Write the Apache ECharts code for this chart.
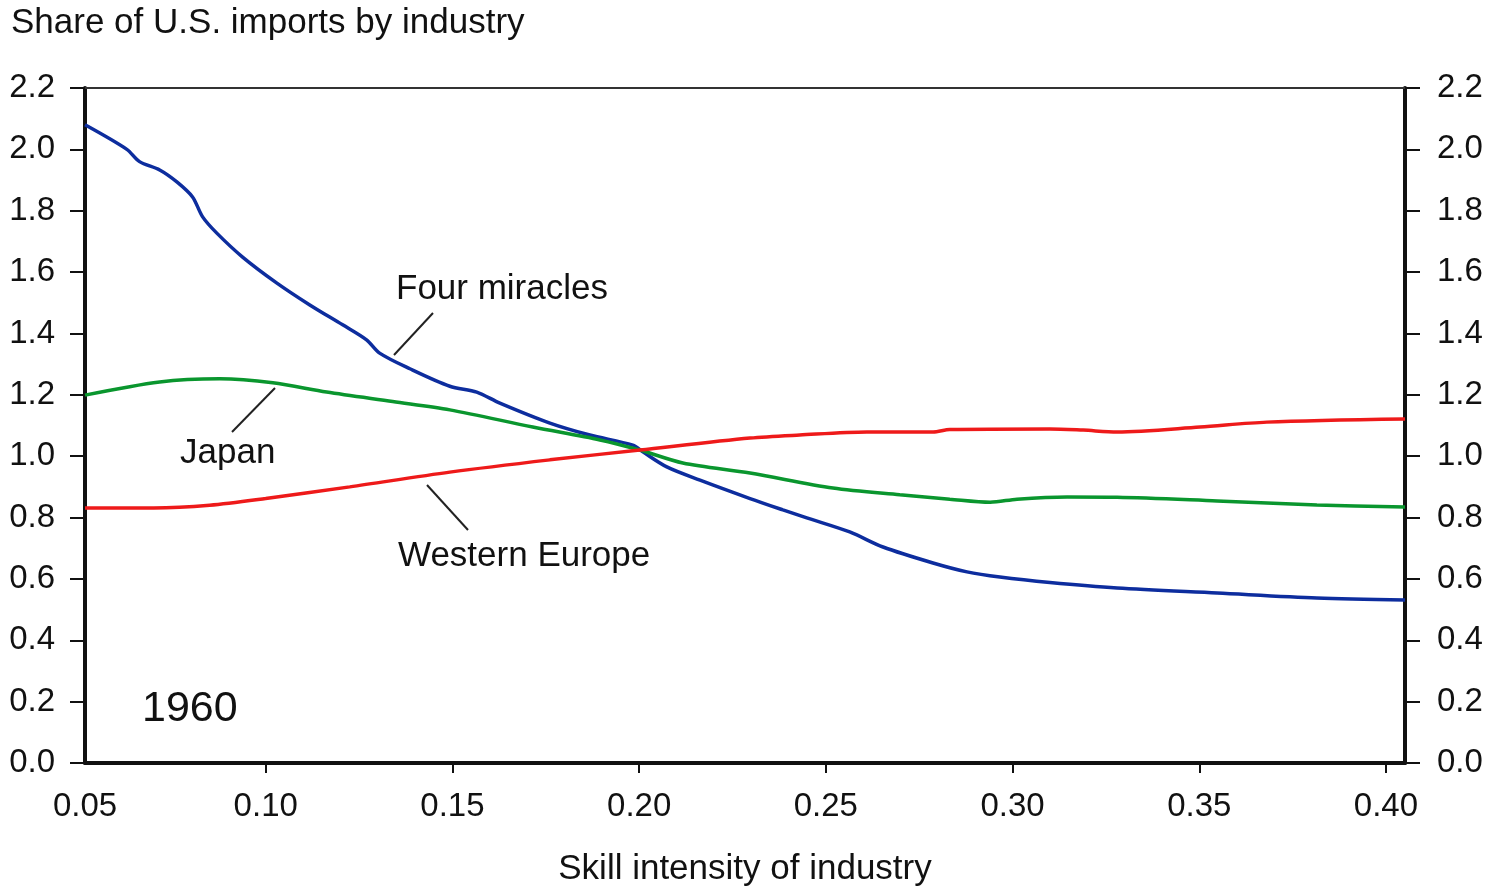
<!DOCTYPE html>
<html>
<head>
<meta charset="utf-8">
<script src="https://cdn.jsdelivr.net/npm/echarts@6/dist/echarts.min.js"></script>
<style>
  html, body { margin: 0; padding: 0; background: #fff; }
  #chart { width: 1495px; height: 890px; }
</style>
</head>
<body>
<div id="chart"></div>
<script>
// skill intensity (x) vs share of U.S. imports (y)
var fourMiracles = [
  [0.0516, 2.08], [0.0628, 2.00], [0.0662, 1.96], [0.0716, 1.933], [0.0762, 1.894],
  [0.0804, 1.845], [0.0831, 1.78], [0.0869, 1.727], [0.0938, 1.649], [0.1029, 1.565],
  [0.1118, 1.493], [0.1206, 1.428], [0.127, 1.379], [0.1305, 1.336], [0.1386, 1.285],
  [0.1493, 1.228], [0.1565, 1.209], [0.1627, 1.173], [0.1761, 1.108], [0.1868, 1.069],
  [0.1983, 1.036], [0.201, 1.014], [0.2074, 0.965], [0.2163, 0.922], [0.2297, 0.862],
  [0.2385, 0.825], [0.2449, 0.799], [0.2564, 0.753], [0.2653, 0.704], [0.2787, 0.652],
  [0.2878, 0.623], [0.2966, 0.606], [0.31, 0.588], [0.328, 0.570], [0.3548, 0.554],
  [0.3815, 0.538], [0.4051, 0.531]
];
var japan = [
  [0.0516, 1.199], [0.0716, 1.242], [0.0877, 1.252], [0.1019, 1.239], [0.1163, 1.209],
  [0.134, 1.178], [0.1493, 1.151], [0.1715, 1.095], [0.1895, 1.053], [0.2002, 1.02],
  [0.2117, 0.978], [0.2297, 0.945], [0.2519, 0.896], [0.2698, 0.874], [0.2832, 0.860],
  [0.294, 0.850], [0.3012, 0.860], [0.3146, 0.867], [0.328, 0.866], [0.3548, 0.854],
  [0.3815, 0.841], [0.4051, 0.834]
];
var westernEurope = [
  [0.0516, 0.831], [0.07, 0.831], [0.085, 0.840], [0.10, 0.862], [0.1225, 0.90],
  [0.1493, 0.948], [0.1761, 0.988], [0.2002, 1.02], [0.2297, 1.059], [0.243, 1.069],
  [0.261, 1.079], [0.2787, 1.079], [0.2832, 1.087], [0.31, 1.089], [0.3189, 1.085],
  [0.328, 1.079], [0.3502, 1.095], [0.3681, 1.111], [0.4051, 1.121]
];
var xTicks = [0.10, 0.15, 0.20, 0.25, 0.30, 0.35, 0.40];
var xLabels = [0.0516].concat(xTicks);  // first label sits on the left edge, reads 0.05

var FONT = '"Liberation Sans", Arial, Helvetica, sans-serif';
var INK = '#111';

var chart = echarts.init(document.getElementById('chart'));

function yAxisOf(pos) {
  return {
    type: 'value',
    position: pos,
    min: 0,
    max: 2.2,
    interval: 0.2,
    axisLine: { show: true, lineStyle: { color: INK, width: 4 } },
    axisTick: { show: true, inside: false, length: 15, lineStyle: { color: INK, width: 2 } },
    axisLabel: {
      color: INK, fontSize: 33, fontFamily: FONT,
      margin: pos === 'left' ? 30 : 32,
      formatter: function (v) { return v.toFixed(1); }
    },
    splitLine: { show: false }
  };
}

chart.setOption({
  backgroundColor: '#fff',
  animation: false,
  title: {
    text: 'Share of U.S. imports by industry',
    left: 6,
    top: 1,
    textStyle: { color: INK, fontSize: 35, fontWeight: 'normal', fontFamily: FONT }
  },
  grid: {
    left: 85, right: 90, top: 88, bottom: 127,
    outerBoundsMode: 'none'
  },
  xAxis: [
    {
      type: 'value',
      position: 'bottom',
      min: 0.0516,
      max: 0.4051,
      name: 'Skill intensity of industry',
      nameLocation: 'middle',
      nameGap: 89,
      nameTextStyle: { color: INK, fontSize: 35, fontFamily: FONT },
      axisLine: { show: true, onZero: false, lineStyle: { color: INK, width: 4 } },
      axisTick: { show: true, length: 10, customValues: xTicks, lineStyle: { color: INK, width: 2 } },
      axisLabel: {
        color: INK, fontSize: 33, fontFamily: FONT, margin: 27,
        customValues: xLabels,
        formatter: function (v) { return v < 0.06 ? '0.05' : v.toFixed(2); }
      },
      splitLine: { show: false }
    },
    {
      type: 'value',
      position: 'top',
      min: 0.0516,
      max: 0.4051,
      axisLine: { show: true, onZero: false, lineStyle: { color: '#333', width: 2 } },
      axisTick: { show: false },
      axisLabel: { show: false },
      splitLine: { show: false }
    }
  ],
  yAxis: [yAxisOf('left'), yAxisOf('right')],
  series: [
    {
      name: 'Four miracles', type: 'line', data: fourMiracles,
      smooth: 0.3, showSymbol: false,
      lineStyle: { color: '#0d2d9e', width: 3.5 }, itemStyle: { color: '#0d2d9e' }
    },
    {
      name: 'Japan', type: 'line', data: japan,
      smooth: 0.3, showSymbol: false,
      lineStyle: { color: '#0a962e', width: 3.5 }, itemStyle: { color: '#0a962e' }
    },
    {
      name: 'Western Europe', type: 'line', data: westernEurope,
      smooth: 0.3, showSymbol: false,
      lineStyle: { color: '#ee1a1a', width: 3.5 }, itemStyle: { color: '#ee1a1a' }
    }
  ],
  graphic: [
    // leader lines
    { type: 'line', shape: { x1: 433, y1: 313, x2: 394, y2: 355 }, style: { stroke: '#222', lineWidth: 2 } },
    { type: 'line', shape: { x1: 275, y1: 388, x2: 232, y2: 432 }, style: { stroke: '#222', lineWidth: 2 } },
    { type: 'line', shape: { x1: 427, y1: 485, x2: 468, y2: 530 }, style: { stroke: '#222', lineWidth: 2 } },
    // labels
    { type: 'text', left: 396, top: 272, style: { text: 'Four miracles', fill: INK, font: '35px ' + FONT } },
    { type: 'text', left: 180, top: 436, style: { text: 'Japan', fill: INK, font: '35px ' + FONT } },
    { type: 'text', left: 398, top: 539, style: { text: 'Western Europe', fill: INK, font: '35px ' + FONT } },
    { type: 'text', left: 142, top: 688, style: { text: '1960', fill: INK, font: '43px ' + FONT } }
  ]
});
</script>
</body>
</html>
